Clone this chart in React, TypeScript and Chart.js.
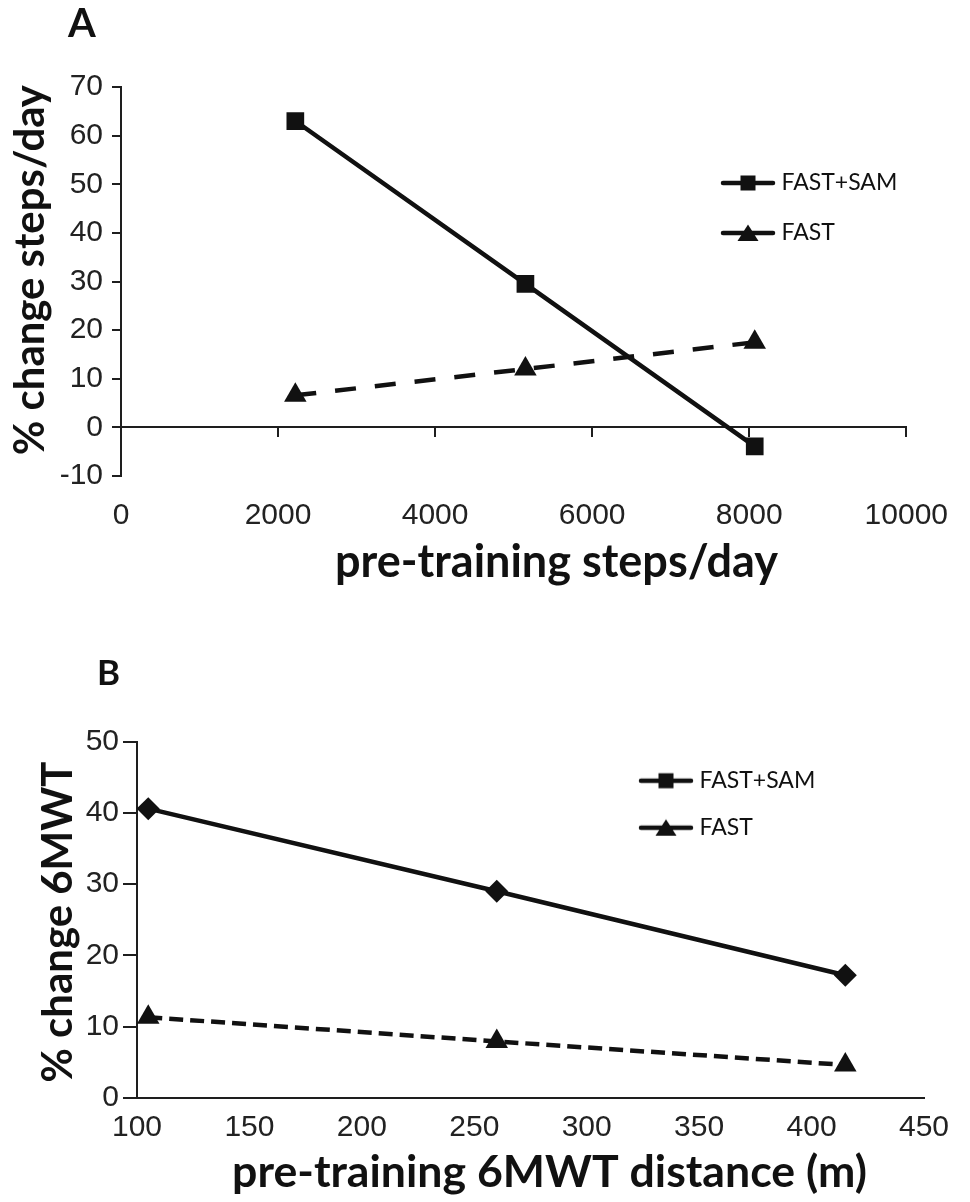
import React, { useEffect, useRef } from "react";
import { Chart, registerables } from "chart.js";

Chart.register(...registerables);

// ---------- shared ----------
const seriesNames = ["FAST+SAM", "FAST"];
const panelLetters = ["A", "B"];
const xTitles = ["pre-training steps/day", "pre-training 6MWT distance (m)"];
const yTitles = ["% change steps/day", "% change 6MWT"];

// ---------- panel A : steps/day ----------
const stepsX = [2220, 5150, 8070];
const stepsFastSam = [63.0, 29.5, -3.9];
const stepsFast = [6.6, 12.0, 17.5];
const stepsXRange = [0, 10000];
const stepsXStep = 2000;
const stepsYRange = [-10, 70];
const stepsYStep = 10;

// ---------- panel B : 6MWT ----------
const walkX = [105, 260, 415];
const walkFastSam = [40.6, 29.0, 17.2];
const walkFast = [11.3, 7.9, 4.6];
const walkXRange = [100, 450];
const walkXStep = 50;
const walkYRange = [0, 50];
const walkYStep = 10;

const INK = "#111111";
const AXIS = "#1e1e1e";
const TICK_TEXT = "#222222";
const TICK_FONT = { family: "Liberation Sans", size: 30 };
const LEGEND_FONT = { family: "Lato", size: 23 };
const plainTick = (v: any) => String(v);

function legendIcon(kind: "square" | "triangle"): HTMLCanvasElement {
  const c = document.createElement("canvas");
  c.width = 56;
  c.height = 24;
  const g = c.getContext("2d")!;
  g.strokeStyle = INK;
  g.lineWidth = 4.5;
  g.lineCap = "round";
  g.beginPath();
  g.moveTo(3, 12);
  g.lineTo(53, 12);
  g.stroke();
  g.fillStyle = INK;
  if (kind === "square") {
    g.fillRect(20.5, 4.5, 15, 15);
  } else {
    g.beginPath();
    g.moveTo(28, 3.5);
    g.lineTo(38.5, 20);
    g.lineTo(17.5, 20);
    g.closePath();
    g.fill();
  }
  return c;
}

const panelTextPlugin = {
  id: "panelText",
  afterDraw(chart: any, _args: any, o: any) {
    const ctx = chart.ctx as CanvasRenderingContext2D;
    ctx.save();
    ctx.fillStyle = INK;
    ctx.textAlign = "left";
    ctx.textBaseline = "alphabetic";
    ctx.font = `bold ${o.letterSize}px Lato, sans-serif`;
    ctx.fillText(o.letter, o.letterX, o.letterY);
    const fitSize = (t: string, w: number) => {
      ctx.font = "bold 40px Lato, sans-serif";
      return (40 * w) / ctx.measureText(t).width;
    };
    const xs = fitSize(o.xTitle, o.xWidth);
    ctx.font = `bold ${xs}px Lato, sans-serif`;
    ctx.textAlign = "center";
    ctx.fillText(o.xTitle, o.xCenter, o.xBaseline);
    const ys = fitSize(o.yTitle, o.yWidth);
    ctx.translate(o.yBaseline, o.yCenter);
    ctx.rotate(-Math.PI / 2);
    ctx.font = `bold ${ys}px Lato, sans-serif`;
    ctx.textAlign = "center";
    ctx.fillText(o.yTitle, 0, 0);
    ctx.restore();
  },
};

const legendPlacePlugin = {
  id: "legendPlace",
  afterLayout(chart: any, _args: any, o: any) {
    const lg = chart.legend;
    if (!lg) return;
    const pad = lg.options.labels.padding;
    const fs = lg.options.labels.font.size;
    const psw = lg.options.labels.pointStyleWidth;
    const left = o.lineStart + 28 - psw / 2 - pad;
    const top = o.firstRowY - pad - fs / 2;
    lg.left = left;
    lg.top = top;
    lg.width = 300;
    lg.height = 300;
    lg.right = left + 300;
    lg.bottom = top + 300;
  },
};

function makeConfig(p: any) {
  const icons = [legendIcon("square"), legendIcon("triangle")];
  return {
    type: "line",
    data: {
      datasets: [
        {
          label: seriesNames[0],
          data: p.xs.map((x: number, i: number) => ({ x, y: p.s1[i] })),
          borderColor: INK,
          backgroundColor: INK,
          borderWidth: 4.5,
          tension: 0,
          fill: false,
          pointStyle: p.s1Style,
          pointRadius: p.s1Radius,
          pointBorderWidth: 0,
          pointBackgroundColor: INK,
          pointBorderColor: INK,
          xAxisID: "x",
          yAxisID: "y",
        },
        {
          label: seriesNames[1],
          data: p.xs.map((x: number, i: number) => ({ x, y: p.s2[i] })),
          borderColor: INK,
          backgroundColor: INK,
          borderWidth: 4.5,
          borderDash: p.dash,
          tension: 0,
          fill: false,
          pointStyle: "triangle",
          pointRadius: 13,
          pointBorderWidth: 0,
          pointBackgroundColor: INK,
          pointBorderColor: INK,
          xAxisID: "x",
          yAxisID: "y",
        },
      ],
    },
    options: {
      responsive: false,
      animation: false,
      devicePixelRatio: 1,
      events: [],
      layout: { padding: { left: 0, top: p.padTop, right: p.padRight, bottom: 0 } },
      scales: p.scales,
      plugins: {
        tooltip: { enabled: false },
        legend: {
          display: true,
          position: "chartArea",
          align: "start",
          labels: {
            usePointStyle: true,
            pointStyleWidth: 44,
            padding: p.legendPad,
            color: INK,
            font: LEGEND_FONT,
            generateLabels: () =>
              seriesNames.map((name, i) => ({
                text: name,
                pointStyle: icons[i],
                fillStyle: INK,
                strokeStyle: INK,
                lineWidth: 0,
                hidden: false,
                datasetIndex: i,
                fontColor: INK,
              })),
          },
        },
        legendPlace: p.legendPlace,
        panelText: p.text,
      },
    },
    plugins: [legendPlacePlugin, panelTextPlugin],
  } as any;
}

function configA() {
  const H = 610;
  const top = 87;
  const bottom = 476;
  return makeConfig({
    xs: stepsX,
    s1: stepsFastSam,
    s2: stepsFast,
    s1Style: "rect",
    s1Radius: 12.5,
    dash: [21, 19],
    padTop: top,
    padRight: 53,
    legendPad: 27,
    legendPlace: { lineStart: 720, firstRowY: 183 },
    text: {
      letter: panelLetters[0],
      letterSize: 40,
      letterX: 68,
      letterY: 37,
      xTitle: xTitles[0],
      xWidth: 443,
      xCenter: 556.5,
      xBaseline: 577,
      yTitle: yTitles[0],
      yWidth: 370,
      yCenter: 270,
      yBaseline: 44,
    },
    scales: {
      x: {
        type: "linear",
        position: { y: 0 },
        min: stepsXRange[0],
        max: stepsXRange[1],
        ticks: { display: false, stepSize: stepsXStep, callback: plainTick },
        grid: { drawOnChartArea: false, drawTicks: true, tickLength: 9, color: AXIS, lineWidth: 2 },
        border: { display: true, color: AXIS, width: 2 },
        afterFit: (s: any) => {
          s.height = 0;
        },
      },
      x2: {
        type: "linear",
        axis: "x",
        position: "bottom",
        min: stepsXRange[0],
        max: stepsXRange[1],
        ticks: {
          stepSize: stepsXStep,
          color: TICK_TEXT,
          font: TICK_FONT,
          padding: 22,
          maxRotation: 0,
          callback: plainTick,
        },
        grid: { display: true, drawOnChartArea: false, drawTicks: false },
        border: { display: false },
        afterFit: (s: any) => {
          s.height = H - bottom;
        },
      },
      y: {
        type: "linear",
        position: "left",
        min: stepsYRange[0],
        max: stepsYRange[1],
        ticks: { stepSize: stepsYStep, color: TICK_TEXT, font: TICK_FONT, padding: 9, callback: plainTick },
        grid: { drawOnChartArea: false, drawTicks: true, tickLength: 9, color: AXIS, lineWidth: 2 },
        border: { display: true, color: AXIS, width: 2 },
        afterFit: (s: any) => {
          s.width = 121;
        },
      },
    },
  });
}

function configB() {
  const H = 582;
  const offset = 620;
  const top = 741.7 - offset;
  const bottom = 1097.7 - offset;
  return makeConfig({
    xs: walkX,
    s1: walkFastSam,
    s2: walkFast,
    s1Style: "rectRot",
    s1Radius: 11.5,
    dash: [14, 7],
    padTop: top,
    padRight: 46,
    legendPad: 24,
    legendPlace: { lineStart: 638, firstRowY: 780.7 - offset },
    text: {
      letter: panelLetters[1],
      letterSize: 35,
      letterX: 97,
      letterY: 685 - offset,
      xTitle: xTitles[1],
      xWidth: 635,
      xCenter: 549.5,
      xBaseline: 1186.7 - offset,
      yTitle: yTitles[1],
      yWidth: 321,
      yCenter: 922 - offset,
      yBaseline: 72,
    },
    scales: {
      x: {
        type: "linear",
        position: "bottom",
        min: walkXRange[0],
        max: walkXRange[1],
        ticks: {
          stepSize: walkXStep,
          color: TICK_TEXT,
          font: TICK_FONT,
          padding: 12,
          maxRotation: 0,
          callback: plainTick,
        },
        grid: { display: true, drawOnChartArea: false, drawTicks: false, color: AXIS, lineWidth: 2 },
        border: { display: true, color: AXIS, width: 2 },
        afterFit: (s: any) => {
          s.height = H - bottom;
        },
      },
      y: {
        type: "linear",
        position: "left",
        min: walkYRange[0],
        max: walkYRange[1],
        ticks: { stepSize: walkYStep, color: TICK_TEXT, font: TICK_FONT, padding: 4, callback: plainTick },
        grid: { drawOnChartArea: false, drawTicks: true, tickLength: 14, color: AXIS, lineWidth: 2 },
        border: { display: true, color: AXIS, width: 2 },
        afterFit: (s: any) => {
          s.width = 137;
        },
      },
    },
  });
}

export default function App() {
  const refA = useRef<HTMLCanvasElement>(null);
  const refB = useRef<HTMLCanvasElement>(null);

  useEffect(() => {
    const a = new Chart(refA.current!, configA());
    const b = new Chart(refB.current!, configB());
    return () => {
      a.destroy();
      b.destroy();
    };
  }, []);

  return (
    <div
      style={{
        position: "absolute",
        left: 0,
        top: 0,
        width: 970,
        height: 1202,
        overflow: "hidden",
        background: "#ffffff",
      }}
    >
      <div style={{ position: "absolute", left: 0, top: 0, width: 970, height: 610 }}>
        <canvas ref={refA} width={970} height={610} style={{ width: 970, height: 610, display: "block" }} />
      </div>
      <div style={{ position: "absolute", left: 0, top: 620, width: 970, height: 582 }}>
        <canvas ref={refB} width={970} height={582} style={{ width: 970, height: 582, display: "block" }} />
      </div>
    </div>
  );
}
